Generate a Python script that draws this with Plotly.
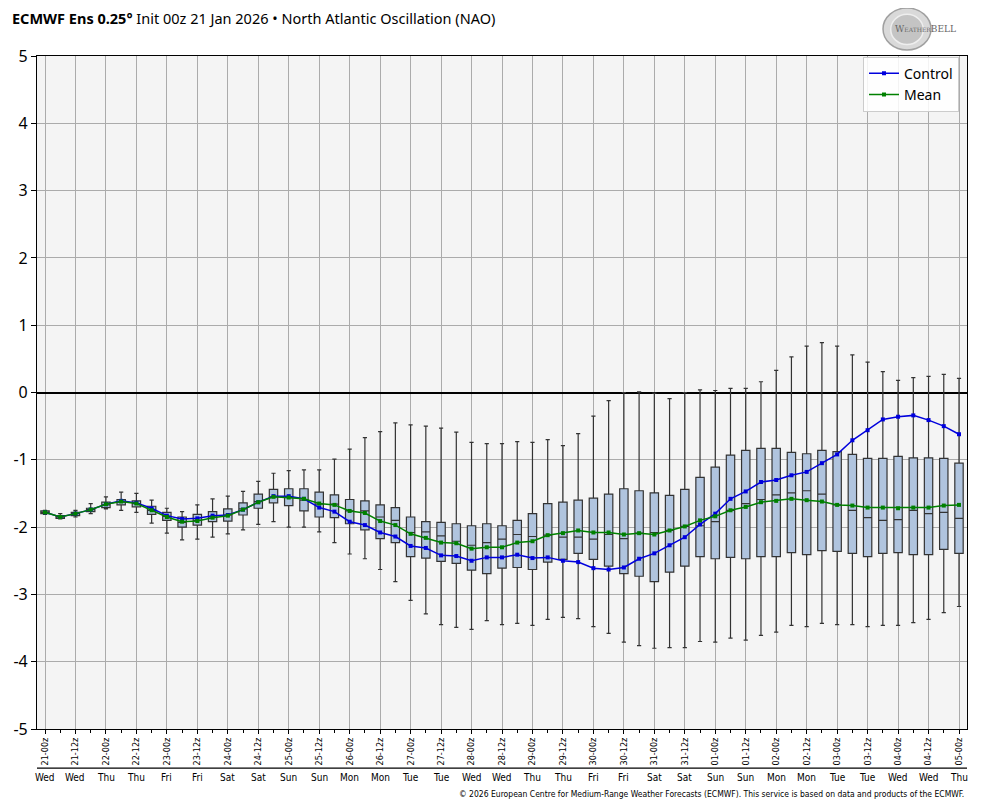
import plotly.graph_objects as go

# forecast hours from init (00z 21 Jan 2026), every 6 h
hours = list(range(0, 361, 6))

# ensemble box stats (NAO index)
upper_whisker = [-1.75, -1.80, -1.75, -1.65, -1.55, -1.48, -1.50, -1.60, -1.72, -1.77,
                 -1.67, -1.58, -1.54, -1.47, -1.32, -1.20, -1.16, -1.15, -1.15, -0.99,
                 -0.84, -0.67, -0.58, -0.45, -0.48, -0.50, -0.53, -0.59, -0.74, -0.76,
                 -0.76, -0.73, -0.74, -0.70, -0.79, -0.61, -0.35, -0.12, 0.00, 0.01,
                 -0.01, -0.09, 0.00, 0.04, 0.03, 0.06, 0.06, 0.16, 0.33, 0.53,
                 0.69, 0.74, 0.69, 0.56, 0.45, 0.31, 0.18, 0.22, 0.24, 0.27, 0.21]
q3 = [-1.76, -1.83, -1.78, -1.72, -1.63, -1.59, -1.61, -1.69, -1.78, -1.85,
      -1.81, -1.77, -1.73, -1.64, -1.51, -1.44, -1.43, -1.43, -1.48, -1.52,
      -1.59, -1.61, -1.67, -1.71, -1.85, -1.92, -1.93, -1.95, -1.98, -1.95,
      -1.98, -1.90, -1.80, -1.65, -1.63, -1.60, -1.57, -1.51, -1.43, -1.46,
      -1.49, -1.53, -1.44, -1.26, -1.11, -0.93, -0.86, -0.83, -0.83, -0.89,
      -0.91, -0.86, -0.88, -0.92, -0.98, -0.98, -0.95, -0.97, -0.97, -0.98, -1.05]
median = [-1.78, -1.85, -1.80, -1.74, -1.67, -1.63, -1.65, -1.75, -1.84, -1.93,
          -1.90, -1.85, -1.82, -1.73, -1.62, -1.55, -1.56, -1.60, -1.66, -1.66,
          -1.76, -1.76, -1.85, -1.90, -2.08, -2.07, -2.13, -2.21, -2.27, -2.23,
          -2.18, -2.11, -2.14, -2.12, -2.15, -2.15, -2.18, -2.11, -2.17, -2.09,
          -2.08, -2.05, -1.99, -1.98, -1.92, -1.75, -1.65, -1.59, -1.52, -1.49,
          -1.46, -1.51, -1.67, -1.75, -1.86, -1.90, -1.89, -1.75, -1.80, -1.78, -1.87]
q1 = [-1.80, -1.87, -1.83, -1.77, -1.71, -1.67, -1.70, -1.81, -1.90, -2.00,
      -1.97, -1.92, -1.91, -1.82, -1.72, -1.64, -1.68, -1.76, -1.85, -1.86,
      -1.95, -2.04, -2.17, -2.23, -2.44, -2.46, -2.51, -2.54, -2.64, -2.69,
      -2.61, -2.60, -2.63, -2.52, -2.48, -2.39, -2.48, -2.58, -2.69, -2.73,
      -2.81, -2.67, -2.58, -2.44, -2.47, -2.45, -2.47, -2.44, -2.44, -2.38,
      -2.41, -2.35, -2.36, -2.39, -2.44, -2.39, -2.38, -2.41, -2.41, -2.33, -2.39]
lower_whisker = [-1.81, -1.88, -1.85, -1.80, -1.73, -1.75, -1.78, -1.94, -2.09, -2.19,
                 -2.18, -2.15, -2.10, -2.04, -1.96, -1.92, -2.00, -2.00, -2.07, -2.23,
                 -2.40, -2.47, -2.63, -2.81, -3.09, -3.29, -3.45, -3.49, -3.52, -3.39,
                 -3.45, -3.43, -3.46, -3.37, -3.34, -3.36, -3.48, -3.58, -3.71, -3.76,
                 -3.80, -3.79, -3.79, -3.70, -3.71, -3.65, -3.68, -3.61, -3.56, -3.46,
                 -3.48, -3.43, -3.45, -3.45, -3.48, -3.46, -3.46, -3.42, -3.37, -3.27, -3.18]

control = [-1.78, -1.85, -1.80, -1.74, -1.66, -1.61, -1.64, -1.72, -1.83, -1.88,
           -1.87, -1.83, -1.82, -1.74, -1.63, -1.54, -1.54, -1.58, -1.71, -1.77,
           -1.92, -1.97, -2.08, -2.14, -2.28, -2.31, -2.42, -2.43, -2.50, -2.45,
           -2.45, -2.41, -2.46, -2.45, -2.50, -2.52, -2.61, -2.63, -2.60, -2.47,
           -2.39, -2.27, -2.15, -1.96, -1.80, -1.58, -1.47, -1.33, -1.30, -1.23,
           -1.18, -1.05, -0.92, -0.71, -0.56, -0.40, -0.36, -0.34, -0.41, -0.50, -0.62]
mean = [-1.78, -1.85, -1.80, -1.74, -1.66, -1.62, -1.65, -1.75, -1.85, -1.92,
        -1.91, -1.86, -1.83, -1.74, -1.63, -1.55, -1.56, -1.58, -1.65, -1.67,
        -1.76, -1.79, -1.91, -1.97, -2.10, -2.16, -2.23, -2.24, -2.32, -2.30,
        -2.30, -2.23, -2.21, -2.12, -2.09, -2.05, -2.08, -2.08, -2.11, -2.09,
        -2.11, -2.05, -1.99, -1.90, -1.84, -1.75, -1.70, -1.63, -1.61, -1.58,
        -1.60, -1.62, -1.67, -1.68, -1.71, -1.71, -1.72, -1.71, -1.71, -1.68, -1.67]

# x axis labels, every 12 h
tick_hours = list(range(0, 361, 12))
tick_labels = ["21-00z", "21-12z", "22-00z", "22-12z", "23-00z", "23-12z", "24-00z", "24-12z",
               "25-00z", "25-12z", "26-00z", "26-12z", "27-00z", "27-12z", "28-00z", "28-12z",
               "29-00z", "29-12z", "30-00z", "30-12z", "31-00z", "31-12z", "01-00z", "01-12z",
               "02-00z", "02-12z", "03-00z", "03-12z", "04-00z", "04-12z", "05-00z"]
day_names = ["Wed", "Wed", "Thu", "Thu", "Fri", "Fri", "Sat", "Sat", "Sun", "Sun", "Mon",
             "Mon", "Tue", "Tue", "Wed", "Wed", "Thu", "Thu", "Fri", "Fri", "Sat", "Sat",
             "Sun", "Sun", "Mon", "Mon", "Tue", "Tue", "Wed", "Wed", "Thu"]

y_ticks = [5, 4, 3, 2, 1, 0, -1, -2, -3, -4, -5]
y_labels = ["5", "4", "3", "2", "1", "0", "-1", "-2", "-3", "-4", "-5"]

FONT = "Noto Sans"
NARROW = "DejaVu Sans Condensed, Liberation Sans Narrow, Noto Sans"
XRANGE = [-3.15, 363.15]

fig = go.Figure()

fig.add_trace(go.Box(
    x=hours, q1=q1, median=median, q3=q3,
    lowerfence=lower_whisker, upperfence=upper_whisker,
    width=3.3, whiskerwidth=0.5,
    fillcolor="#b0c4de", line=dict(color="#333333", width=1.2),
    showlegend=False, hoverinfo="skip",
))

fig.add_trace(go.Scatter(
    x=hours, y=control, name="Control", mode="lines+markers",
    line=dict(color="#0000dd", width=1.5),
    marker=dict(symbol="square", size=4, color="#0000dd"),
))
fig.add_trace(go.Scatter(
    x=hours, y=mean, name="Mean", mode="lines+markers",
    line=dict(color="#008000", width=1.5),
    marker=dict(symbol="square", size=4, color="#008000"),
))

# empty trace so the 6-hourly tick axis gets drawn
fig.add_trace(go.Scatter(x=[], y=[], xaxis="x2", showlegend=False, hoverinfo="skip"))

# title as a paper annotation above the plot
fig.add_annotation(
    x=-0.0295, y=1.0565, xref="paper", yref="paper", xanchor="left", yanchor="middle",
    showarrow=False,
    text="<b>ECMWF Ens 0.25°</b> Init 00z 21 Jan 2026 • North Atlantic Oscillation (NAO)",
    font=dict(family=FONT, size=14.5, color="black"),
)

# day names under the tick labels
for h, d in zip(tick_hours, day_names):
    fig.add_annotation(x=h, y=-0.0715, xref="x", yref="paper", yanchor="middle",
                       text=d, showarrow=False,
                       font=dict(family=NARROW, size=10, color="black"))

# separator line above day names
fig.add_shape(type="line", xref="paper", yref="paper", x0=0, x1=1, y0=-0.058, y1=-0.058,
              line=dict(color="black", width=1.2))

fig.add_annotation(
    x=0.999, y=-0.0966, xref="paper", yref="paper", xanchor="right", yanchor="middle",
    showarrow=False,
    text="© 2026 European Centre for Medium-Range Weather Forecasts (ECMWF). "
         "This service is based on data and products of the ECMWF.",
    font=dict(family=NARROW, size=8.5, color="black"),
)

# rough WeatherBELL logo
fig.add_shape(type="circle", xref="paper", yref="paper",
              x0=0.9097, x1=0.9613, y0=1.0089, y1=1.0713,
              fillcolor="#d9d9d9", line=dict(color="#a0a0a0", width=1.5), layer="above")
fig.add_shape(type="circle", xref="paper", yref="paper",
              x0=0.918, x1=0.953, y0=1.017, y1=1.062,
              fillcolor="#c4c4c4", line=dict(color="#eeeeee", width=1.5), layer="above")
fig.add_annotation(x=0.99, y=1.040, xref="paper", yref="paper", xanchor="right",
                   yanchor="middle", showarrow=False,
                   text="W<span style='font-size:6px'>EATHER</span>BELL",
                   font=dict(family="DejaVu Serif", size=9, color="#666666"))

# page body adds an 8 px offset, so the figure is a bit smaller than the window
fig.update_layout(
    width=976, height=800,
    margin=dict(l=29, r=17, t=48, b=79),
    paper_bgcolor="white", plot_bgcolor="#f4f4f4",
    font=dict(family=FONT, color="black"),
    legend=dict(
        x=0.9914, y=0.999, xanchor="right", yanchor="top",
        bgcolor="rgba(255,255,255,0.85)", bordercolor="#cccccc", borderwidth=1,
        font=dict(family=FONT, size=14, color="black"),
    ),
    showlegend=True,
    xaxis=dict(
        range=XRANGE,
        tickmode="array", tickvals=tick_hours, ticktext=tick_labels, tickangle=-90,
        tickfont=dict(family=NARROW, size=9, color="black"),
        ticks="outside", ticklen=4, tickcolor="black",
        showgrid=True, gridcolor="#ababab", gridwidth=1,
        showline=True, linecolor="black", linewidth=1.2, mirror=True,
        zeroline=False, automargin=False,
    ),
    xaxis2=dict(
        overlaying="x", anchor="y", side="bottom", range=XRANGE,
        tickmode="array", tickvals=hours, showticklabels=False,
        ticks="outside", ticklen=3, tickcolor="black",
        showgrid=False, zeroline=False, showline=False, automargin=False,
    ),
    yaxis=dict(
        range=[-5, 5],
        tickmode="array", tickvals=y_ticks, ticktext=y_labels,
        tickfont=dict(family=FONT, size=16, color="black"),
        ticks="outside", ticklen=5, tickcolor="black",
        showgrid=True, gridcolor="#ababab", gridwidth=1,
        showline=True, linecolor="black", linewidth=1.2, mirror=True,
        zeroline=True, zerolinecolor="black", zerolinewidth=1.5, automargin=False,
    ),
)

fig.write_html("out.html")
